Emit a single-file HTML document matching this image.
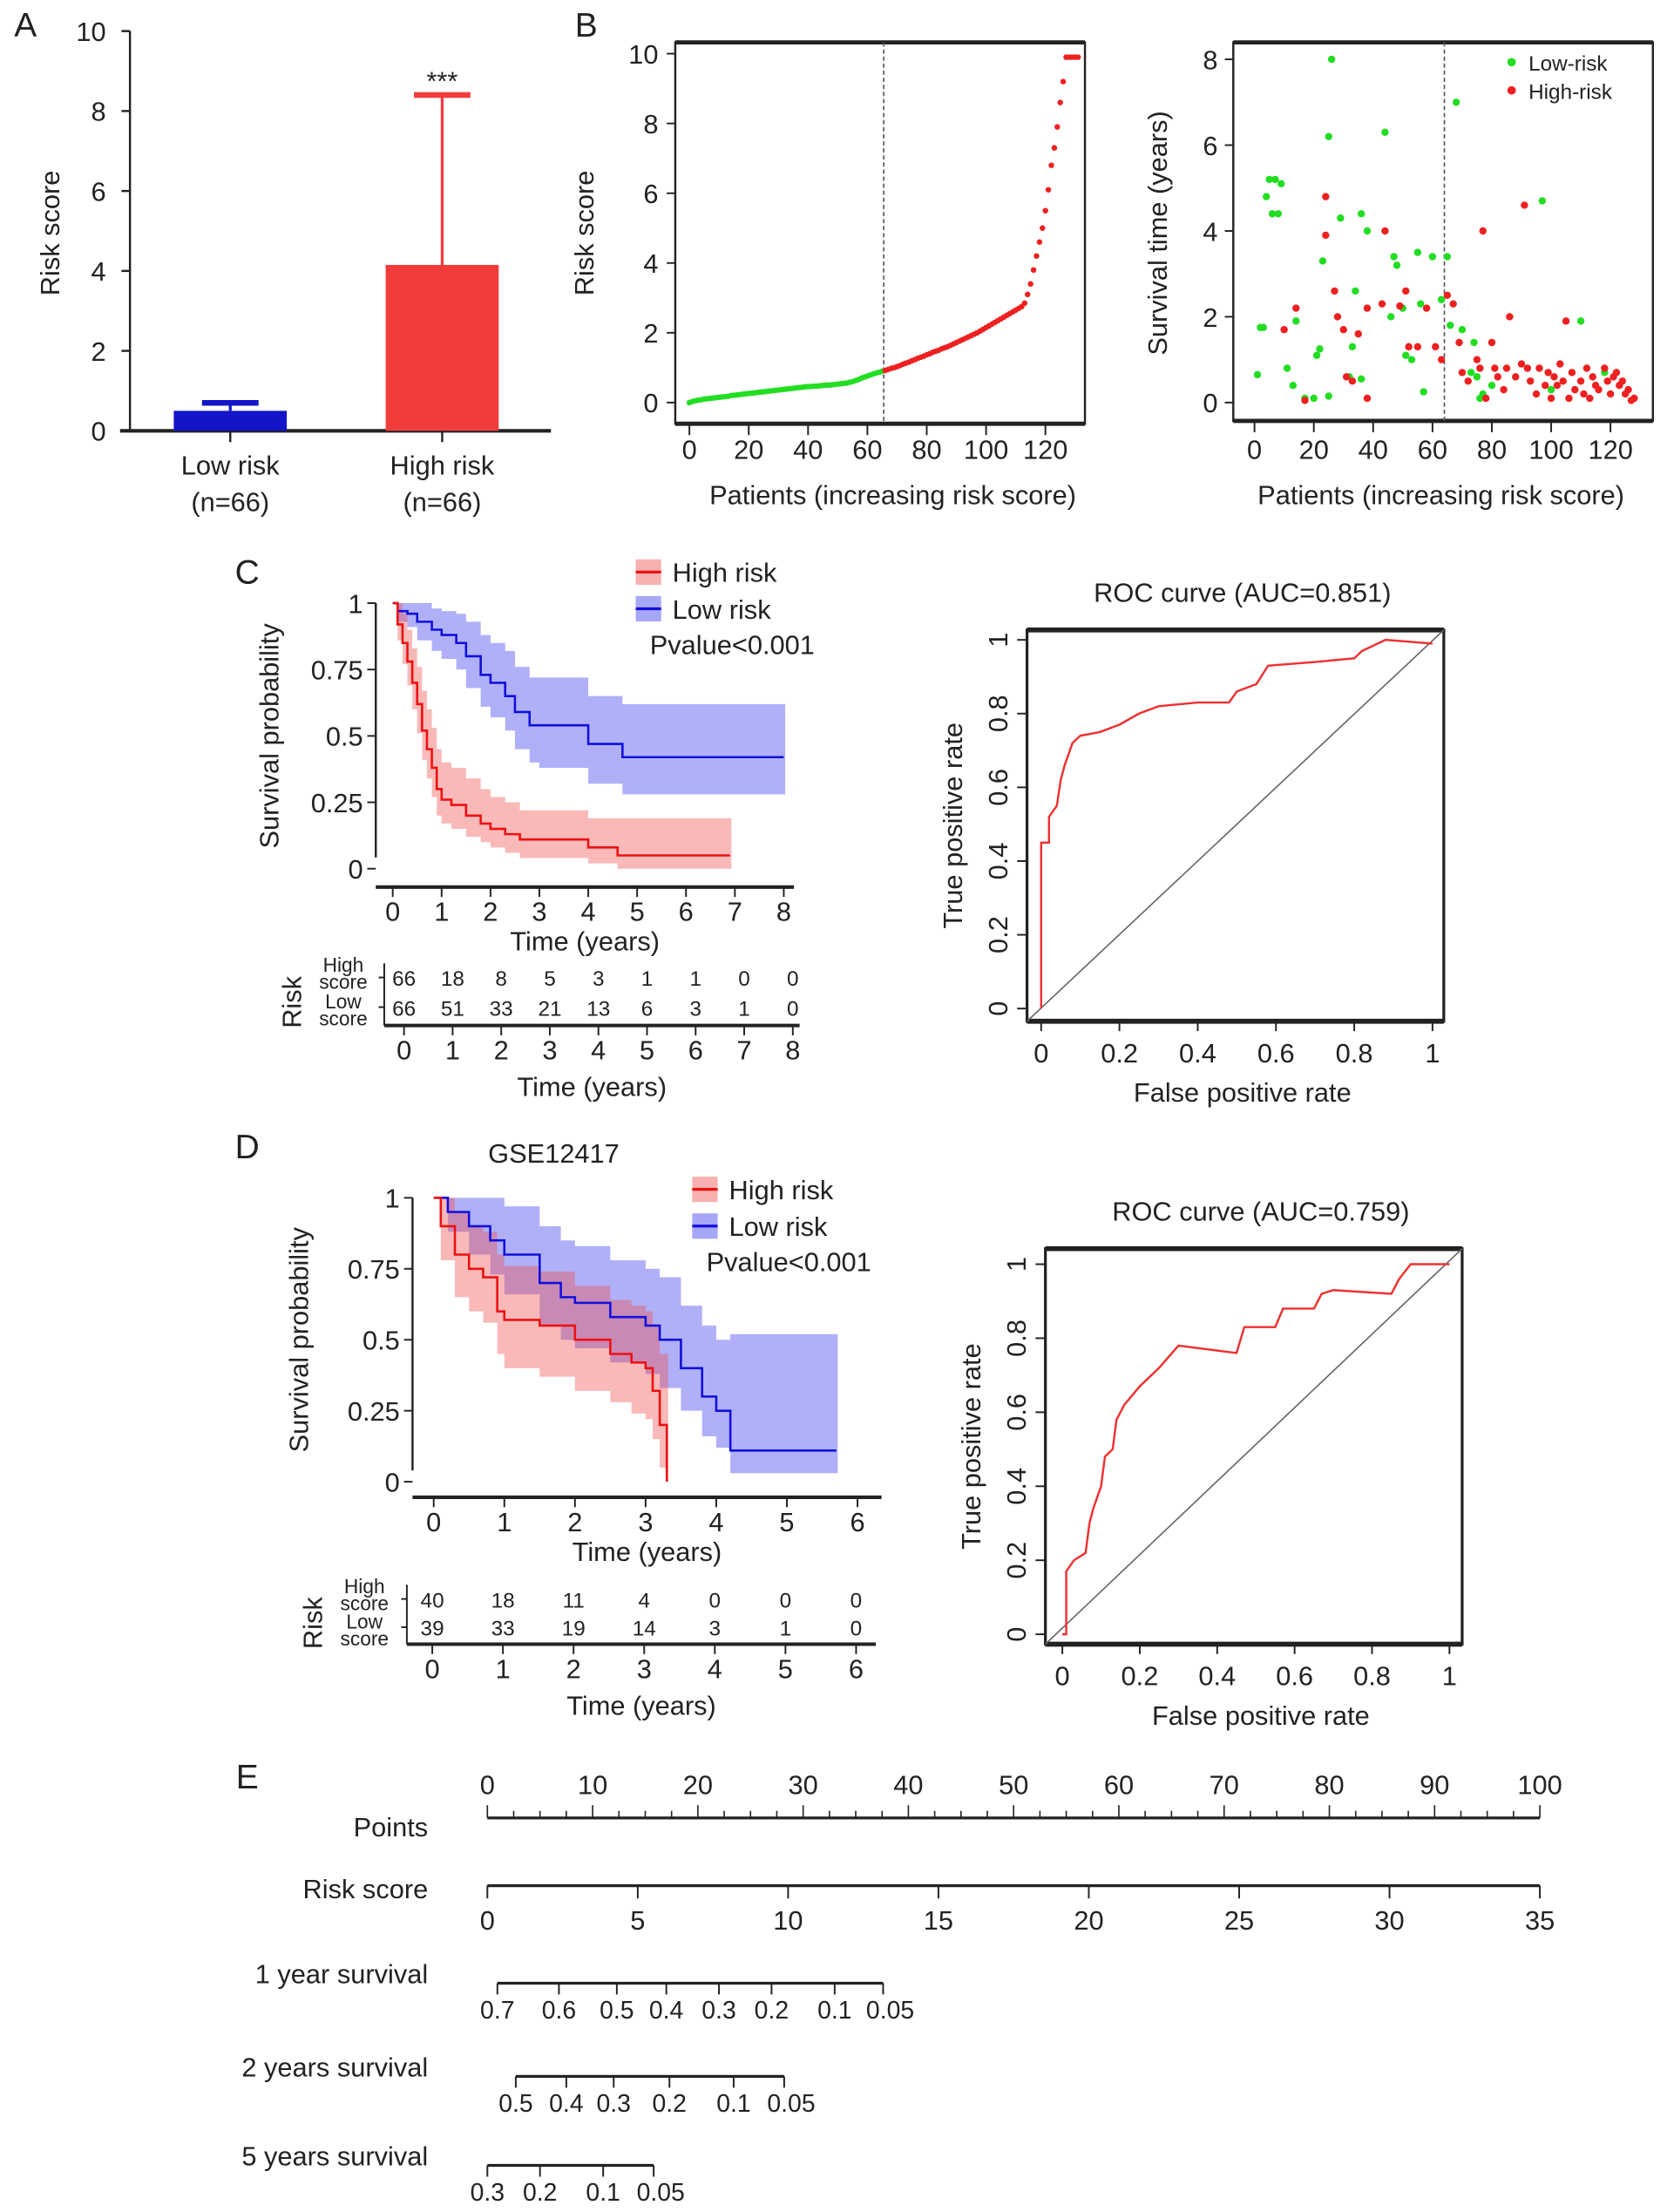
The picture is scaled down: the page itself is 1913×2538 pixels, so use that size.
<!DOCTYPE html>
<html><head><meta charset="utf-8"><style>
html,body{margin:0;padding:0;background:#fff}
svg{display:block}
text{font-family:"Liberation Sans",sans-serif;fill:#222}
</style></head><body>
<svg id="fig" width="1913" height="2538" viewBox="0 0 1180 1566" preserveAspectRatio="none" xmlns="http://www.w3.org/2000/svg"></svg>
<script>
// ---------- data ----------
const barGroups = ["Low risk", "High risk"];
const barMeans = [0.5, 4.15];
const barErr = [0.7, 8.4];
const riskSorted = [0.0,0.03,0.05,0.07,0.08,0.1,0.11,0.12,0.13,0.14,0.15,0.16,0.17,0.18,0.2,0.21,0.22,0.23,0.24,0.25,0.26,0.27,0.28,0.29,0.3,0.31,0.32,0.33,0.34,0.35,0.36,0.37,0.38,0.39,0.4,0.41,0.42,0.43,0.44,0.45,0.46,0.46,0.47,0.47,0.48,0.49,0.5,0.5,0.51,0.52,0.53,0.54,0.55,0.56,0.58,0.6,0.63,0.66,0.7,0.73,0.76,0.79,0.82,0.85,0.87,0.9,
0.92,0.95,0.98,1.0,1.03,1.06,1.1,1.13,1.16,1.2,1.23,1.27,1.3,1.33,1.37,1.4,1.44,1.47,1.5,1.54,1.57,1.6,1.64,1.68,1.72,1.76,1.8,1.84,1.88,1.92,1.96,2.0,2.05,2.1,2.15,2.2,2.25,2.3,2.35,2.4,2.45,2.5,2.55,2.6,2.65,2.7,2.75,2.85,3.1,3.4,3.8,4.2,4.6,5.0,5.5,6.1,6.8,7.3,7.9,8.6,9.2,9.9,9.9,9.9,9.9,9.9];
const lowIdx = [1,2,3,4,5,6,7,8,9,11,13,14,17,20,21,22,23,25,26,25,29,32,33,34,36,36,38,44,46,47,48,50,51,53,55,56,57,60,63,65,66,68,70,73,74,75,76,77,80,97,110,118,100];
const lowTime = [0.65,1.75,1.75,4.8,5.2,4.4,5.2,4.4,5.1,0.8,0.4,1.9,0.1,0.1,1.1,1.25,3.3,0.15,8.0,6.2,4.3,0.6,1.3,2.6,0.55,4.4,4.0,6.3,2.0,3.4,3.2,2.2,1.1,1.0,3.5,2.3,0.25,3.4,2.4,3.4,1.8,7.0,1.7,0.7,1.4,0.6,0.1,0.2,0.4,4.7,1.9,0.7,0.3];
const highIdx = [10,14,17,24,24,27,28,30,31,33,35,38,38,43,44,49,51,52,55,58,61,63,65,67,69,70,72,75,76,77,78,80,81,82,84,85,86,88,90,92,91,93,95,96,98,99,100,101,102,103,104,105,106,107,108,110,111,112,113,114,115,116,118,119,120,121,122,123,124,125,126,127,128];
const highTime = [1.7,2.2,0.05,3.9,4.8,2.6,2.0,1.7,0.6,0.5,1.6,0.1,2.2,2.3,4.0,2.25,2.6,1.3,1.3,2.2,1.3,1.0,2.5,2.3,1.4,0.7,0.5,1.0,0.8,4.0,0.1,1.4,0.8,0.6,0.3,0.8,2.0,0.6,0.9,0.8,4.6,0.5,0.2,0.8,0.4,0.7,0.1,0.6,0.4,0.9,0.5,1.9,0.1,0.7,0.3,0.5,0.2,0.8,0.1,0.6,0.4,0.3,0.8,0.5,0.2,0.6,0.7,0.4,0.5,0.2,0.3,0.05,0.1];
const cHighT = [0,0.1,0.2,0.3,0.4,0.5,0.6,0.7,0.8,0.9,1.0,1.2,1.5,1.8,2.0,2.3,2.6,3.0,3.5,4.0,4.6,5.0,6.9];
const cHighS = [1,0.92,0.85,0.78,0.70,0.62,0.52,0.45,0.38,0.30,0.26,0.24,0.20,0.17,0.15,0.13,0.11,0.11,0.11,0.08,0.05,0.05,0.05];
const cHighU = [1,1,0.96,0.9,0.83,0.76,0.67,0.6,0.53,0.45,0.4,0.38,0.34,0.3,0.27,0.25,0.22,0.22,0.22,0.19,0.19,0.19,0.19];
const cHighL = [1,0.86,0.77,0.69,0.6,0.51,0.41,0.34,0.27,0.2,0.17,0.15,0.12,0.1,0.08,0.06,0.04,0.04,0.04,0.02,0.0,0.0,0.0];
const cLowT = [0,0.1,0.3,0.5,0.8,1.0,1.3,1.5,1.8,2.0,2.3,2.5,2.8,3.0,3.5,4.0,4.7,5.5,8.0];
const cLowS = [1,0.97,0.96,0.93,0.90,0.88,0.85,0.80,0.73,0.70,0.65,0.59,0.54,0.54,0.54,0.47,0.42,0.42,0.42];
const cLowU = [1,1,1,1,0.98,0.97,0.96,0.93,0.88,0.85,0.82,0.76,0.72,0.72,0.72,0.65,0.62,0.62,0.62];
const cLowL = [1,0.93,0.91,0.86,0.82,0.79,0.75,0.68,0.61,0.57,0.52,0.45,0.40,0.38,0.38,0.32,0.28,0.28,0.28];
const cRiskHigh = [66,18,8,5,3,1,1,0,0];
const cRiskLow = [66,51,33,21,13,6,3,1,0];
const rocCx = [0,0,0.02,0.02,0.04,0.05,0.06,0.08,0.1,0.15,0.2,0.25,0.3,0.4,0.48,0.5,0.55,0.58,0.7,0.8,0.82,0.88,1];
const rocCy = [0,0.45,0.45,0.52,0.55,0.62,0.66,0.72,0.74,0.75,0.77,0.80,0.82,0.83,0.83,0.86,0.88,0.93,0.94,0.95,0.97,1.0,0.99];
const dHighT = [0,0.1,0.3,0.5,0.7,0.9,1.0,1.5,2.0,2.5,2.8,3.0,3.1,3.2,3.3];
const dHighS = [1,0.9,0.8,0.75,0.72,0.6,0.57,0.55,0.5,0.45,0.42,0.4,0.32,0.2,0];
const dHighU = [1,1,0.95,0.9,0.88,0.8,0.76,0.74,0.69,0.64,0.62,0.6,0.55,0.45,0.45];
const dHighL = [1,0.78,0.65,0.6,0.56,0.45,0.4,0.37,0.32,0.28,0.24,0.22,0.15,0.05,0];
const dLowT = [0,0.2,0.5,0.8,1.0,1.5,1.8,2.0,2.5,3.0,3.2,3.5,3.8,4.0,4.2,5.7];
const dLowS = [1,0.95,0.9,0.85,0.8,0.7,0.65,0.63,0.58,0.55,0.5,0.4,0.3,0.25,0.11,0.11];
const dLowU = [1,1,1,1,0.97,0.9,0.85,0.83,0.78,0.75,0.72,0.62,0.55,0.5,0.52,0.52];
const dLowL = [1,0.88,0.8,0.73,0.66,0.55,0.5,0.47,0.42,0.38,0.33,0.25,0.16,0.12,0.03,0.03];
const dRiskHigh = [40,18,11,4,0,0,0];
const dRiskLow = [39,33,19,14,3,1,0];
const rocDx = [0,0.01,0.01,0.03,0.06,0.07,0.08,0.1,0.11,0.13,0.14,0.16,0.2,0.25,0.3,0.45,0.47,0.55,0.57,0.65,0.67,0.7,0.85,0.87,0.9,1];
const rocDy = [0,0,0.17,0.2,0.22,0.3,0.34,0.4,0.48,0.5,0.58,0.62,0.67,0.72,0.78,0.76,0.83,0.83,0.88,0.88,0.92,0.93,0.92,0.96,1.0,1.0];
const pointsTicks = [0,10,20,30,40,50,60,70,80,90,100];
const riskScoreTicks = [0,5,10,15,20,25,30,35];
const surv1Labels = ["0.7","0.6","0.5","0.4","0.3","0.2","0.1","0.05"];
const surv1Pts = [0.95,6.8,12.3,17,22,27,33.0,37.6];
const surv2Labels = ["0.5","0.4","0.3","0.2","0.1","0.05"];
const surv2Pts = [2.7,7.5,12,17.3,23.4,28.2];
const surv5Labels = ["0.3","0.2","0.1","0.05"];
const surv5Pts = [0,5,11,15.8];

// ---------- helpers ----------
const svg = document.getElementById('fig');
const NS = 'http://www.w3.org/2000/svg';
function mk(tag, attrs, name, parent) {
  const el = document.createElementNS(NS, tag);
  for (const k in attrs) el.setAttribute(k, attrs[k]);
  
  
  (parent || svg).appendChild(el);
  return el;
}
function txt(x, y, s, name, opt) {
  opt = opt || {};
  const t = mk('text', {x: x, y: y, 'font-size': opt.size || 19, 'text-anchor': opt.anchor || 'middle', fill: opt.fill || '#222'}, name);
  if (opt.rot) t.setAttribute('transform', 'rotate(' + opt.rot + ' ' + x + ' ' + y + ')');
  t.textContent = s;
  return t;
}
function line(x1, y1, x2, y2, name, w, c, dash) {
  const a = {x1: x1, y1: y1, x2: x2, y2: y2, stroke: c || '#222', 'stroke-width': w || 1.2};
  if (dash) a['stroke-dasharray'] = dash;
  return mk('line', a, name);
}
function lin(d0, d1, p0, p1) { return v => p0 + (v - d0) * (p1 - p0) / (d1 - d0); }
function stepPath(T, S, sx, sy) {
  let d = 'M' + sx(T[0]) + ',' + sy(S[0]);
  for (let i = 1; i < T.length; i++) d += 'H' + sx(T[i]) + 'V' + sy(S[i]);
  return d;
}
function bandPath(T, U, L, sx, sy) {
  let d = 'M' + sx(T[0]) + ',' + sy(U[0]);
  for (let i = 1; i < T.length; i++) d += 'H' + sx(T[i]) + 'V' + sy(U[i]);
  d += 'H' + (sx(T[T.length - 1]) + 1) + 'V' + sy(L[L.length - 1]);
  for (let i = T.length - 1; i > 0; i--) d += 'H' + sx(T[i]) + 'V' + sy(L[i - 1]);
  d += 'H' + sx(T[0]) + 'Z';
  return d;
}

// ---------- Panel A ----------
txt(18, 26, 'A', 'panel-a-label', {size: 24, anchor: 'middle'});
{
  const sy = lin(0, 10, 305, 22);
  line(92, 22, 92, 305, 'a-y-axis', 1.5);
  [0,2,4,6,8,10].forEach(v => { line(86, sy(v), 92, sy(v), 'a-y-tick', 1.5); txt(75, sy(v) + 7, String(v), 'a-y-tick-label', {anchor: 'end'}); });
  line(85, 305, 390, 305, 'a-x-axis', 2.5);
  txt(42, 165, 'Risk score', 'a-y-axis-title', {rot: -90});
  const cx = [163, 313], bw = 80, cols = ['#1414c8', '#f23c3c'];
  barGroups.forEach((g, i) => {
    mk('rect', {x: cx[i] - bw / 2, y: sy(barMeans[i]), width: bw, height: 305 - sy(barMeans[i]), fill: cols[i]}, i ? 'bar-high-risk' : 'bar-low-risk');
    line(cx[i], sy(barMeans[i]), cx[i], sy(barErr[i]), 'error-bar', 2, cols[i]);
    line(cx[i] - 20, sy(barErr[i]), cx[i] + 20, sy(barErr[i]), 'error-cap', 4, cols[i]);
    line(cx[i], 305, cx[i], 313, 'a-x-tick', 1.5);
    txt(cx[i], 336, g, 'a-x-label');
    txt(cx[i], 362, '(n=66)', 'a-x-n-label');
  });
  txt(cx[1], 64, '***', 'significance-stars');
}

// ---------- Panel B left ----------
txt(415, 26, 'B', 'panel-b-label', {size: 24});
{
  const sx = lin(0, 120, 488, 740), sy = lin(0, 10, 285, 38);
  mk('rect', {x: 478, y: 30, width: 290, height: 270, fill: 'none', stroke: '#222', 'stroke-width': 1.5}, 'b1-plot-box');
  line(478, 30, 768, 30, 'b1-top', 3); line(478, 300, 768, 300, 'b1-bottom', 3);
  [0,2,4,6,8,10].forEach(v => { line(472, sy(v), 478, sy(v), 'b1-y-tick'); txt(466, sy(v) + 7, String(v), 'b1-y-tick-label', {anchor: 'end'}); });
  [0,20,40,60,80,100,120].forEach(v => { line(sx(v), 300, sx(v), 308, 'b1-x-tick'); txt(sx(v), 325, String(v), 'b1-x-tick-label'); });
  line(sx(65.5), 30, sx(65.5), 300, 'b1-cutoff-line', 1, '#555', '3,2');
  riskSorted.forEach((v, i) => {
    mk('circle', {cx: sx(i), cy: sy(v), r: 2, fill: i < 66 ? '#22dd22' : '#ee2020'}, 'risk-point');
  });
  txt(420, 165, 'Risk score', 'b1-y-axis-title', {rot: -90});
  txt(632, 357, 'Patients (increasing risk score)', 'b1-x-axis-title');
}
// ---------- Panel B right ----------
{
  const sx = lin(0, 120, 888, 1140), sy = lin(0, 8, 285, 42);
  mk('rect', {x: 873, y: 30, width: 297, height: 268, fill: 'none', stroke: '#222', 'stroke-width': 1.5}, 'b2-plot-box');
  line(873, 30, 1170, 30, 'b2-top', 3); line(873, 298, 1170, 298, 'b2-bottom', 3);
  [0,2,4,6,8].forEach(v => { line(867, sy(v), 873, sy(v), 'b2-y-tick'); txt(862, sy(v) + 7, String(v), 'b2-y-tick-label', {anchor: 'end'}); });
  [0,20,40,60,80,100,120].forEach(v => { line(sx(v), 298, sx(v), 306, 'b2-x-tick'); txt(sx(v), 325, String(v), 'b2-x-tick-label'); });
  line(sx(64), 30, sx(64), 298, 'b2-cutoff-line', 1, '#555', '3,2');
  lowIdx.forEach((v, i) => { mk('circle', {cx: sx(v), cy: sy(lowTime[i]), r: 2.6, fill: '#22dd22'}, 'low-risk-point'); });
  highIdx.forEach((v, i) => { mk('circle', {cx: sx(v), cy: sy(highTime[i]), r: 2.6, fill: '#ee2020'}, 'high-risk-point'); });
  mk('circle', {cx: 1070, cy: 44, r: 3, fill: '#22dd22'}, 'legend-low-risk-marker');
  txt(1082, 50, 'Low-risk', 'legend-low-risk', {anchor: 'start', size: 15});
  mk('circle', {cx: 1070, cy: 64, r: 3, fill: '#ee2020'}, 'legend-high-risk-marker');
  txt(1082, 70, 'High-risk', 'legend-high-risk', {anchor: 'start', size: 15});
  txt(826, 165, 'Survival time (years)', 'b2-y-axis-title', {rot: -90});
  txt(1020, 357, 'Patients (increasing risk score)', 'b2-x-axis-title');
}

// ---------- KM helper ----------
function km(cfg) {
  const sx = lin(0, 1, cfg.x0, cfg.x1), sy = lin(0, 1, cfg.y0, cfg.y1);
  mk('path', {d: bandPath(cfg.lT, cfg.lU, cfg.lL, sx, sy), fill: 'rgba(80,80,240,0.45)', stroke: 'none'}, 'low-risk-ci-band');
  mk('path', {d: bandPath(cfg.hT, cfg.hU, cfg.hL, sx, sy), fill: 'rgba(240,80,80,0.4)', stroke: 'none'}, 'high-risk-ci-band');
  mk('path', {d: stepPath(cfg.lT, cfg.lS, sx, sy), fill: 'none', stroke: '#1010dd', 'stroke-width': 1.6}, 'low-risk-curve');
  mk('path', {d: stepPath(cfg.hT, cfg.hS, sx, sy), fill: 'none', stroke: '#ee1010', 'stroke-width': 1.6}, 'high-risk-curve');
  line(cfg.ax, cfg.y0 - 8, cfg.ax, cfg.y1, 'km-y-axis', 1.5);
  [[0,'0'],[0.25,'0.25'],[0.5,'0.5'],[0.75,'0.75'],[1,'1']].forEach(p => { line(cfg.ax - 6, sy(p[0]), cfg.ax, sy(p[0]), 'km-y-tick'); txt(cfg.ax - 9, sy(p[0]) + 7, p[1], 'km-y-tick-label', {anchor: 'end'}); });
  line(cfg.ax, cfg.ay, cfg.axEnd, cfg.ay, 'km-x-axis', 2.5);
  cfg.ticks.forEach(v => { line(sx(v), cfg.ay, sx(v), cfg.ay + 7, 'km-x-tick'); txt(sx(v), cfg.ay + 24, String(v), 'km-x-tick-label'); });
  txt((cfg.ax + cfg.axEnd) / 2, cfg.ay + 45, 'Time (years)', 'km-x-axis-title');
  txt(cfg.ytx, (cfg.y0 + cfg.y1) / 2, 'Survival probability', 'km-y-axis-title', {rot: -90});
  mk('rect', {x: cfg.lgx, y: cfg.lgy - 10, width: 18, height: 18, fill: 'rgba(240,80,80,0.45)'}, 'legend-high-risk-swatch');
  line(cfg.lgx, cfg.lgy - 1, cfg.lgx + 18, cfg.lgy - 1, 'legend-high-risk-line', 2, '#ee1010');
  txt(cfg.lgx + 26, cfg.lgy + 6, 'High risk', 'legend-high-risk', {anchor: 'start'});
  mk('rect', {x: cfg.lgx, y: cfg.lgy + 16, width: 18, height: 18, fill: 'rgba(80,80,240,0.5)'}, 'legend-low-risk-swatch');
  line(cfg.lgx, cfg.lgy + 25, cfg.lgx + 18, cfg.lgy + 25, 'legend-low-risk-line', 2, '#1010dd');
  txt(cfg.lgx + 26, cfg.lgy + 32, 'Low risk', 'legend-low-risk', {anchor: 'start'});
  txt(cfg.lgx + 10, cfg.lgy + 57, 'Pvalue<0.001', 'p-value-label', {anchor: 'start'});
  const tx = lin(0, 1, cfg.tx0, cfg.tx1);
  cfg.rH.forEach((n, i) => txt(tx(i), cfg.tr1 + 6, String(n), 'risk-table-high', {size: 15}));
  cfg.rL.forEach((n, i) => txt(tx(i), cfg.tr2 + 6, String(n), 'risk-table-low', {size: 15}));
  line(cfg.tax, cfg.tr1 - 10, cfg.tax, cfg.tay, 'risk-table-axis-y', 1.2);
  line(cfg.tax - 4, cfg.tr1, cfg.tax, cfg.tr1, 'risk-table-tick'); line(cfg.tax - 4, cfg.tr2, cfg.tax, cfg.tr2, 'risk-table-tick');
  line(cfg.tax, cfg.tay, cfg.taxEnd, cfg.tay, 'risk-table-x-axis', 2.5);
  cfg.ticks.forEach(v => { line(tx(v), cfg.tay, tx(v), cfg.tay + 7, 'risk-table-x-tick'); txt(tx(v), cfg.tay + 24, String(v), 'risk-table-x-tick-label'); });
  txt((cfg.tax + cfg.taxEnd) / 2, cfg.tay + 50, 'Time (years)', 'risk-table-x-axis-title');
  txt(cfg.tlx, cfg.tr1 - 4, 'High', 'risk-table-high-label', {size: 14, fill: '#ee1010'});
  txt(cfg.tlx, cfg.tr1 + 8, 'score', 'risk-table-high-label', {size: 14, fill: '#ee1010'});
  txt(cfg.tlx, cfg.tr2 + 1, 'Low', 'risk-table-low-label', {size: 14, fill: '#2020ee'});
  txt(cfg.tlx, cfg.tr2 + 13, 'score', 'risk-table-low-label', {size: 14, fill: '#2020ee'});
  txt(cfg.tlx - 30, (cfg.tr1 + cfg.tr2) / 2 + 7, 'Risk', 'risk-table-title', {rot: -90});
}
txt(175, 413, 'C', 'panel-c-label', {size: 24});
km({x0: 278, x1: 278 + 34.6, y0: 615, y1: 427, ax: 266, ay: 628, axEnd: 562, ytx: 197,
  lT: cLowT, lS: cLowS, lU: cLowU, lL: cLowL, hT: cHighT, hS: cHighS, hU: cHighU, hL: cHighL,
  ticks: [0,1,2,3,4,5,6,7,8], lgx: 450, lgy: 406, rH: cRiskHigh, rL: cRiskLow,
  tx0: 286, tx1: 286 + 34.4, tr1: 692, tr2: 713, tax: 272, tay: 726, taxEnd: 566, tlx: 243});
txt(175, 820, 'D', 'panel-d-label', {size: 24});
txt(392, 823, 'GSE12417', 'panel-d-dataset-title');
km({x0: 307, x1: 357, y0: 1049, y1: 848, ax: 292, ay: 1060, axEnd: 624, ytx: 218,
  lT: dLowT, lS: dLowS, lU: dLowU, lL: dLowL, hT: dHighT, hS: dHighS, hU: dHighU, hL: dHighL,
  ticks: [0,1,2,3,4,5,6], lgx: 490, lgy: 843, rH: dRiskHigh, rL: dRiskLow,
  tx0: 306, tx1: 356, tr1: 1132, tr2: 1152, tax: 288, tay: 1164, taxEnd: 620, tlx: 258});

// ---------- ROC helper ----------
function roc(cfg) {
  const sx = lin(0, 1, cfg.x0, cfg.x1), sy = lin(0, 1, cfg.y0, cfg.y1);
  mk('rect', {x: cfg.bx, y: cfg.by, width: cfg.bw, height: cfg.bh, fill: 'none', stroke: '#222', 'stroke-width': 2}, 'roc-plot-box');
  line(cfg.bx, cfg.by, cfg.bx + cfg.bw, cfg.by, 'roc-box-top', 3.5);
  line(cfg.bx, cfg.by + cfg.bh, cfg.bx + cfg.bw, cfg.by + cfg.bh, 'roc-box-bottom', 3.5);
  line(cfg.bx, cfg.by + cfg.bh, cfg.bx + cfg.bw, cfg.by, 'roc-diagonal', 1, '#666');
  [0,0.2,0.4,0.6,0.8,1].forEach(v => {
    const lab = v === 0 ? '0' : v === 1 ? '1' : String(v);
    line(sx(v), cfg.by + cfg.bh, sx(v), cfg.by + cfg.bh + 7, 'roc-x-tick');
    txt(sx(v), cfg.by + cfg.bh + 29, lab, 'roc-x-tick-label');
    line(cfg.bx - 7, sy(v), cfg.bx, sy(v), 'roc-y-tick');
    txt(cfg.bx - 14, sy(v), lab, 'roc-y-tick-label', {rot: -90});
  });
  let d = '';
  cfg.fx.forEach((v, i) => { d += (i ? 'L' : 'M') + sx(v) + ',' + sy(cfg.fy[i]); });
  mk('path', {d: d, fill: 'none', stroke: '#ee3030', 'stroke-width': 1.5}, 'roc-curve');
  txt((cfg.bx + cfg.bx + cfg.bw) / 2 + 5, cfg.by - 20, cfg.title, 'roc-title');
  txt((cfg.bx + cfg.bx + cfg.bw) / 2 + 5, cfg.by + cfg.bh + 57, 'False positive rate', 'roc-x-axis-title');
  txt(cfg.bx - 46, cfg.by + cfg.bh / 2, 'True positive rate', 'roc-y-axis-title', {rot: -90});
}
roc({x0: 737, x1: 1014, y0: 714, y1: 453, bx: 727, by: 446, bw: 295, bh: 277, fx: rocCx, fy: rocCy, title: 'ROC curve (AUC=0.851)'});
roc({x0: 752, x1: 1026, y0: 1157, y1: 895, bx: 740, by: 884, bw: 295, bh: 280, fx: rocDx, fy: rocDy, title: 'ROC curve (AUC=0.759)'});

// ---------- Panel E nomogram ----------
txt(175, 1266, 'E', 'panel-e-label', {size: 24});
{
  const px = lin(0, 100, 345, 1090);
  line(345, 1287, 1090, 1287, 'points-axis', 2);
  for (let v = 0; v <= 100; v += 2.5) line(px(v), 1287, px(v), v % 10 === 0 ? 1278 : 1282, 'points-tick', 1);
  pointsTicks.forEach(v => txt(px(v), 1270, String(v), 'points-tick-label'));
  txt(303, 1300, 'Points', 'points-label', {anchor: 'end'});
  const rx = lin(0, 35, 345, 1090);
  line(345, 1335, 1090, 1335, 'risk-score-axis', 2);
  riskScoreTicks.forEach(v => { line(rx(v), 1335, rx(v), 1344, 'risk-score-tick'); txt(rx(v), 1366, String(v), 'risk-score-tick-label'); });
  txt(303, 1344, 'Risk score', 'risk-score-label', {anchor: 'end'});
  function surv(labels, pts, y, lab, name) {
    line(px(pts[0]), y, px(pts[pts.length - 1]), y, name + '-axis', 2);
    pts.forEach((p, i) => { line(px(p), y, px(p), y + 8, name + '-tick'); txt(px(p) + (i === pts.length - 1 ? 5 : 0), y + 25, labels[i], name + '-tick-label', {size: 17.5}); });
    txt(303, y, lab, name + '-label', {anchor: 'end'});
  }
  surv(surv1Labels, surv1Pts, 1404, '1 year survival', 'one-year-survival');
  surv(surv2Labels, surv2Pts, 1470, '2 years survival', 'two-year-survival');
  surv(surv5Labels, surv5Pts, 1533, '5 years survival', 'five-year-survival');
}
</script>
</body></html>
